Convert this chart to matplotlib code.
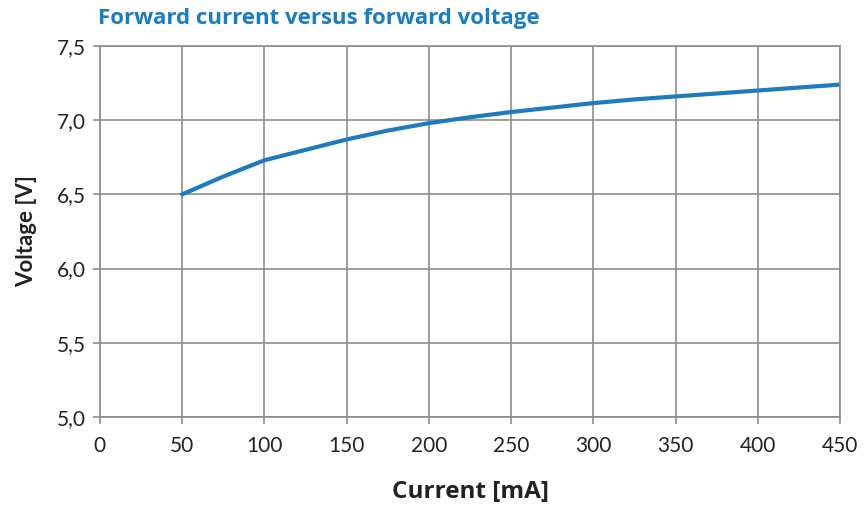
import matplotlib
matplotlib.use("Agg")
import matplotlib.pyplot as plt
import matplotlib.ticker as mticker

current_ma = [50, 75, 100, 125, 150, 175, 200, 225, 250, 275, 300, 325, 350, 375, 400, 425, 450]
voltage_v = [6.50, 6.62, 6.73, 6.80, 6.87, 6.93, 6.98, 7.02, 7.055, 7.085, 7.115, 7.14, 7.16, 7.18, 7.20, 7.22, 7.24]
x_ticks = [0, 50, 100, 150, 200, 250, 300, 350, 400, 450]
y_ticks = [5.0, 5.5, 6.0, 6.5, 7.0, 7.5]

title = "Forward current versus forward voltage"
xlabel = "Current [mA]"
ylabel = "Voltage [V]"

plt.rcParams['font.family'] = ['Lato', 'DejaVu Sans']

fig = plt.figure(figsize=(8.68, 5.11), dpi=100)
ax = fig.add_axes([0.115, 0.184, 0.853, 0.726])

ax.plot(current_ma, voltage_v, color='#1f7bc0', lw=3.0, solid_capstyle='round')

ax.set_xlim(0, 450)
ax.set_ylim(5.0, 7.5)
ax.set_xticks(x_ticks)
ax.set_yticks(y_ticks)
ax.yaxis.set_major_formatter(mticker.FuncFormatter(lambda v, p: f"{v:.1f}".replace('.', ',')))
ax.grid(True, color='#8c8c8c', lw=1.2)
ax.set_axisbelow(True)
for s in ax.spines.values():
    s.set_color('#8c8c8c')
    s.set_linewidth(1.2)
ax.tick_params(axis='both', colors='#8c8c8c', length=5, width=1.2, labelcolor='#222222', labelsize=15)
ax.tick_params(axis='x', pad=9)
ax.tick_params(axis='y', pad=5)

ax.set_xlabel(xlabel, fontsize=17.5, fontweight='bold', color='#222222', labelpad=17,
              family=['Open Sans', 'DejaVu Sans'])
ax.set_ylabel(ylabel, fontsize=16, fontweight='bold', color='#222222', labelpad=14)

fig.text(0.113, 0.963, title, fontsize=16, fontweight='bold', color='#1a7cc1', ha='left', va='center',
         family=['Open Sans', 'DejaVu Sans'])

fig.savefig("out.png", dpi=100)
